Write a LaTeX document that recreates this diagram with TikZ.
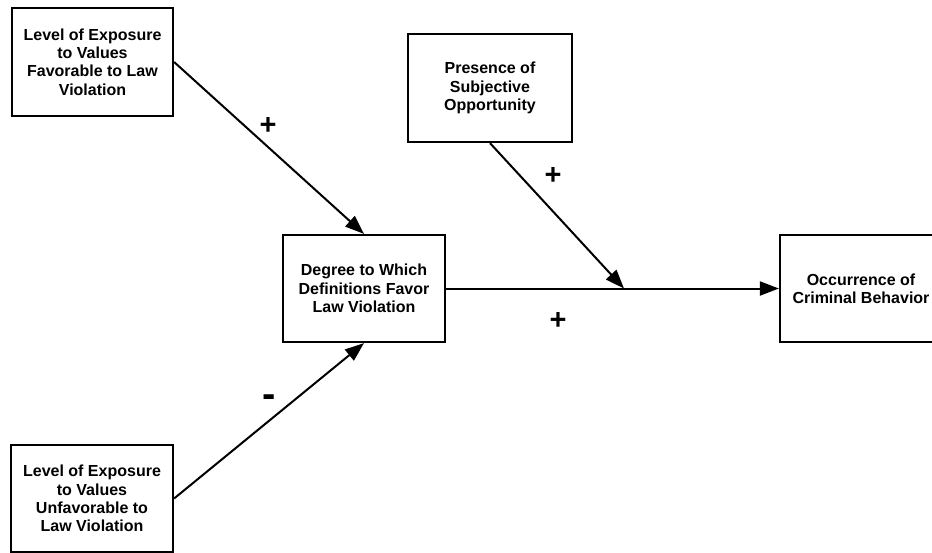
\documentclass[tikz,border=0pt]{standalone}
\usepackage{fontspec}
\setmainfont{Liberation Sans}
\usetikzlibrary{arrows.meta}
\tikzset{
  box/.style={draw=black, line width=2.2pt, fill=white, align=center,
    inner sep=0pt, font=\fontsize{16}{18.4}\selectfont\bfseries},
  link/.style={line width=2pt, -{Triangle[length=19pt,width=14pt]}},
  sign/.style={inner sep=0pt, font=\fontsize{29}{29}\selectfont\bfseries},
  minus/.style={inner sep=0pt, font=\fontsize{40}{40}\selectfont\bfseries}
}
\begin{document}
\begin{tikzpicture}[x=1pt,y=-1pt]
  \useasboundingbox (0,0) rectangle (932,552);
  \begin{scope}
    \clip (0,0) rectangle (932,552);
    % variables
    \node[box, minimum width=161pt, minimum height=108pt] (fav) at (92.5,62)
      {Level of Exposure\\to Values\\Favorable to Law\\Violation};
    \node[box, minimum width=162pt, minimum height=107pt] (unfav) at (92,498.5)
      {Level of Exposure\\to Values\\Unfavorable to\\Law Violation};
    \node[box, minimum width=162pt, minimum height=107pt] (defs) at (364,288.5)
      {Degree to Which\\Definitions Favor\\Law Violation};
    \node[box, minimum width=164pt, minimum height=108pt] (opp) at (490,88)
      {Presence of\\Subjective\\Opportunity};
    \node[box, minimum width=162pt, minimum height=107pt] (crime) at (861,288.5)
      {Occurrence of\\Criminal Behavior};
    % moderating point on the main path
    \coordinate (mod) at (624,288.5);
    % paths
    \draw[link] (fav.east) -- (defs.north);
    \draw[link] (unfav.east) -- (defs.south);
    \draw[link] (defs.east) -- (crime.west);
    \draw[link] (opp.south) -- (mod);
    % signs
    \node[sign] (s1) at (268,126) {+};
    \node[minus] (s2) at (269,401) {-};
    \node[sign] (s3) at (553,176) {+};
    \node[sign] (s4) at (558,321) {+};
  \end{scope}
\end{tikzpicture}
\end{document}
